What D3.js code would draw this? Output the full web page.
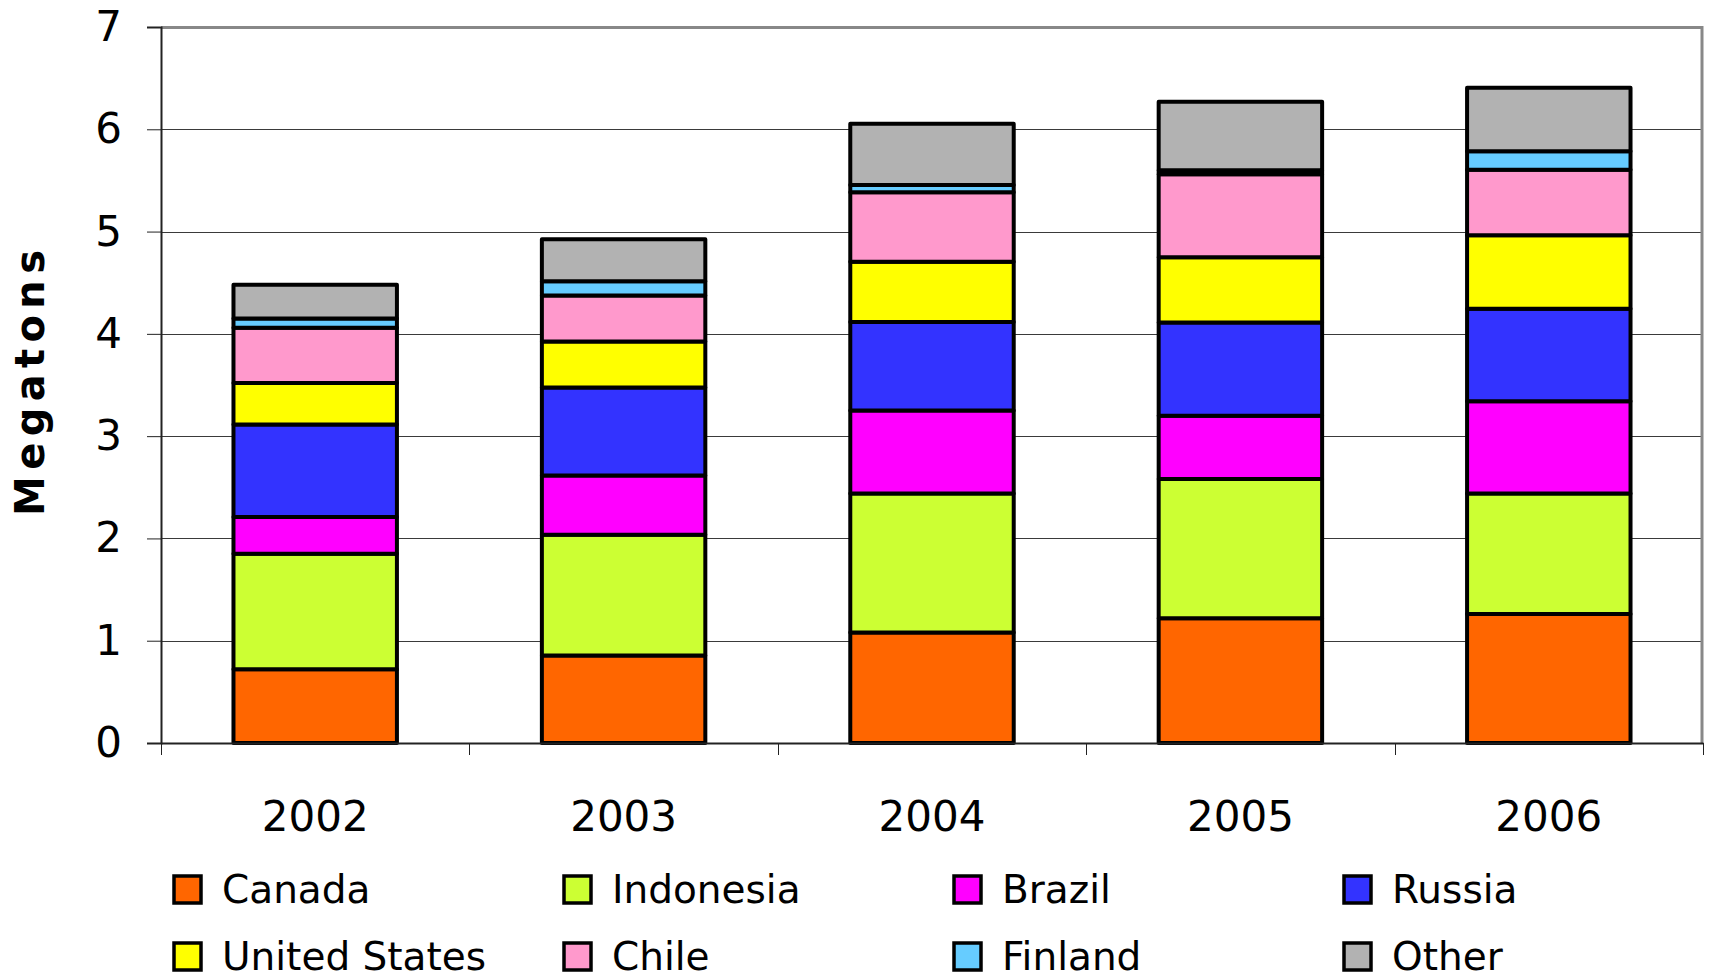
<!DOCTYPE html>
<html>
<head>
<meta charset="utf-8">
<script src="https://cdn.jsdelivr.net/npm/d3@7"></script>
<style>
  html, body { margin: 0; padding: 0; background: #fff; }
  svg { display: block; }
</style>
</head>
<body>
<div id="chart"></div>
<script>
'use strict';

// categories and series (megatons)
const years = ["2002", "2003", "2004", "2005", "2006"];
const countries = ["Canada", "Indonesia", "Brazil", "Russia", "United States", "Chile", "Finland", "Other"];
const canada       = [0.72, 0.855, 1.08, 1.22, 1.26];
const indonesia    = [1.13, 1.18, 1.36, 1.36, 1.18];
const brazil       = [0.36, 0.58, 0.81, 0.62, 0.90];
const russia       = [0.905, 0.86, 0.865, 0.91, 0.905];
const unitedStates = [0.405, 0.45, 0.59, 0.64, 0.72];
const chile        = [0.54, 0.45, 0.68, 0.81, 0.64];
const finland      = [0.09, 0.14, 0.07, 0.04, 0.18];
const other        = [0.33, 0.41, 0.60, 0.67, 0.62];
const colors = ["#FF6600", "#CCFF33", "#FF00FF", "#3333FF", "#FFFF00", "#FF99CC", "#66CCFF", "#B2B2B2"];
const yTicks = [0, 1, 2, 3, 4, 5, 6, 7];

(function() {
    var W = 1709, H = 978;
    var margin = { left: 161, right: 6, top: 27, bottom: 235 };
    var width = W - margin.left - margin.right,
        height = H - margin.top - margin.bottom;

    var series = [canada, indonesia, brazil, russia, unitedStates, chile, finland, other];

    // build rows for d3.stack
    var rows = years.map(function(y, i) {
        var r = { year: y };
        countries.forEach(function(c, k) { r[c] = series[k][i]; });
        return r;
    });
    var stacked = d3.stack().keys(countries)(rows);

    var x = d3.scaleBand().domain(years).range([0, width]).paddingInner(0.47).paddingOuter(0.235);
    var y = d3.scaleLinear().domain([0, 7]).range([height, 0]);
    var color = d3.scaleOrdinal().domain(countries).range(colors);

    var svg = d3.select("#chart").append("svg")
        .attr("width", W)
        .attr("height", H);

    var g = svg.append("g")
        .attr("transform", "translate(" + margin.left + "," + margin.top + ")");

    // gridlines
    g.append("g")
        .selectAll("line")
        .data(yTicks.slice(1, -1))
        .enter().append("line")
        .attr("x1", 0).attr("x2", width)
        .attr("y1", function(d) { return Math.round(y(d)) + 0.5; })
        .attr("y2", function(d) { return Math.round(y(d)) + 0.5; })
        .style("stroke", "#3a3a3a")
        .style("stroke-width", 1);

    // frame top / right (gray)
    g.append("path")
        .attr("d", "M0,0.5H" + (width - 1) + "V" + height)
        .style("fill", "none")
        .style("stroke", "#888")
        .style("stroke-width", 3);

    // bars
    g.selectAll("g.layer")
        .data(stacked)
        .enter().append("g")
        .attr("class", "layer")
        .style("fill", function(d) { return color(d.key); })
        .selectAll("rect")
        .data(function(d) { return d; })
        .enter().append("rect")
        .attr("x", function(d) { return x(d.data.year); })
        .attr("y", function(d) { return y(d[1]); })
        .attr("width", x.bandwidth())
        .attr("height", function(d) { return y(d[0]) - y(d[1]); })
        .style("stroke", "#000")
        .style("stroke-width", 4)
        .style("stroke-linejoin", "round");

    // y axis
    var yAxis = g.append("g")
        .call(d3.axisLeft(y).tickValues(yTicks).tickSize(14).tickPadding(25).tickFormat(d3.format("d")));
    yAxis.select(".domain").style("stroke", "#222").style("stroke-width", 2);
    yAxis.selectAll(".tick line").style("stroke", "#222");
    yAxis.selectAll("text")
        .style("font-family", "'DejaVu Sans', sans-serif")
        .style("font-size", "42px")
        .style("fill", "#000");

    // x axis with ticks at category boundaries
    var xAxis = g.append("g")
        .attr("transform", "translate(0," + height + ")")
        .call(d3.axisBottom(x).tickSize(0).tickPadding(58));
    xAxis.select(".domain").style("stroke", "#222").style("stroke-width", 2);
    xAxis.selectAll("text")
        .style("font-family", "'DejaVu Sans', sans-serif")
        .style("font-size", "42px")
        .style("fill", "#000");

    var bounds = years.map(function(d) { return x(d) - x.step() * x.paddingInner() / 2; });
    bounds.push(width);
    g.append("g")
        .selectAll("line")
        .data(bounds)
        .enter().append("line")
        .attr("x1", function(d) { return Math.round(d) + 0.5; })
        .attr("x2", function(d) { return Math.round(d) + 0.5; })
        .attr("y1", height).attr("y2", height + 12)
        .style("stroke", "#222");

    // y axis title
    svg.append("text")
        .attr("transform", "translate(44," + (margin.top + y(3.5) - 2) + ") rotate(-90)")
        .attr("text-anchor", "middle")
        .attr("textLength", 266)
        .attr("lengthAdjust", "spacing")
        .style("font-family", "'DejaVu Sans', sans-serif")
        .style("font-weight", "bold")
        .style("font-size", "40px")
        .text("Megatons");

    // legend, 4 columns x 2 rows
    var legend = svg.append("g").attr("transform", "translate(174,876)");
    var item = legend.selectAll("g")
        .data(countries)
        .enter().append("g")
        .attr("transform", function(d, i) {
            return "translate(" + ((i % 4) * 390) + "," + (Math.floor(i / 4) * 67) + ")";
        });
    item.append("rect")
        .attr("width", 27).attr("height", 27)
        .style("fill", function(d) { return color(d); })
        .style("stroke", "#000")
        .style("stroke-width", 3.5);
    item.append("text")
        .attr("x", 48)
        .attr("y", 13)
        .attr("dy", "0.36em")
        .style("font-family", "'DejaVu Sans', sans-serif")
        .style("font-size", "39px")
        .text(function(d) { return d; });
})();
</script>
</body>
</html>
